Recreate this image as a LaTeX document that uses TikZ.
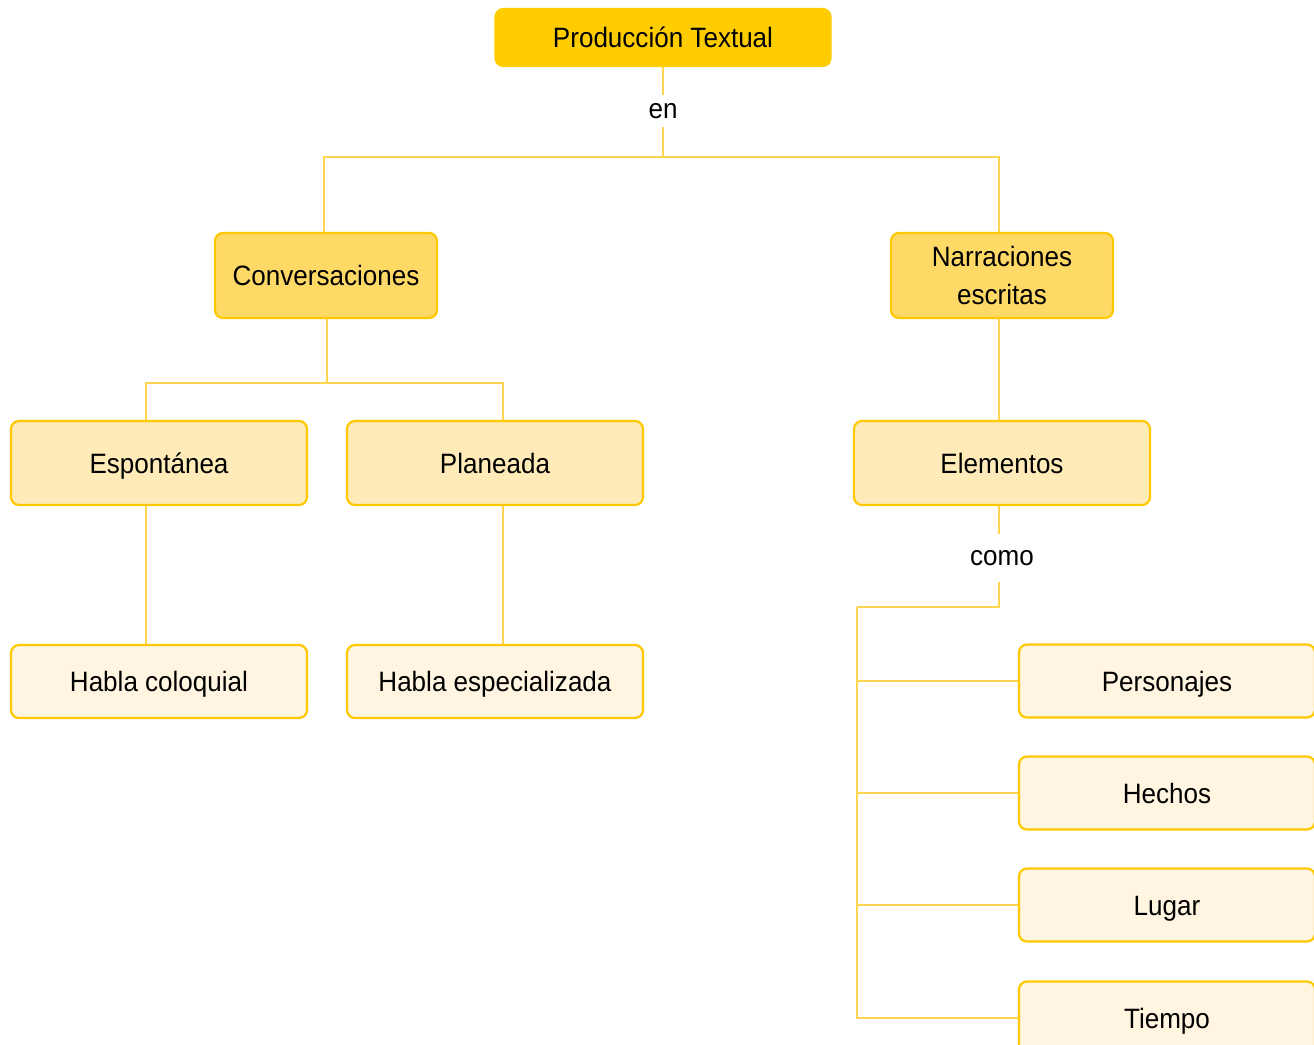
\documentclass[tikz,border=0pt]{standalone}
\usepackage{fontspec}
\setmainfont{Liberation Sans}[FakeStretch=0.93]
\usetikzlibrary{positioning}

\definecolor{oro}{HTML}{FFCC00}
\definecolor{oroclaro}{HTML}{FFD966}
\definecolor{crema}{HTML}{FFEBB8}
\definecolor{marfil}{HTML}{FFF5E0}
\definecolor{linea}{HTML}{FFD54F}
\definecolor{borde}{HTML}{FFC800}

\tikzset{
  caja/.style={draw=borde, line width=1.1pt, rounded corners=4pt,
    align=center, inner sep=0pt,
    font=\fontsize{14}{19}\selectfont},
  linea1/.style={text height=10pt, text depth=0pt},
  nivelA/.style={caja, linea1, fill=oro, draw=oro,
    minimum width=167.5pt, minimum height=28.5pt},
  nivelB/.style={caja, fill=oroclaro,
    minimum width=111pt, minimum height=42.5pt},
  nivelC/.style={caja, linea1, fill=crema,
    minimum width=148pt, minimum height=42pt},
  nivelD/.style={caja, linea1, fill=marfil,
    minimum width=148pt, minimum height=36.5pt},
  conector/.style={draw=linea, line width=1.3pt},
  enlace/.style={inner sep=0pt, text height=7.5pt, text depth=0pt,
    font=\fontsize{14}{17}\selectfont}
}

\begin{document}
\begin{tikzpicture}[x=0.5pt,y=-0.5pt]

  \useasboundingbox (0,0) rectangle (1314,1045);

  % Raiz
  \node[nivelA] (prod) at (663,37.5) {Producción Textual};
  \node[enlace, minimum height=16pt] (en) at (663,111) {en};
  \coordinate (raiz) at (663,157);

  % Segundo nivel
  \node[nivelB] (conv) at (326,275.5) {Conversaciones};
  \node[nivelB] (narr) at (1002,275.5) {Narraciones\\escritas};

  % Tercer nivel
  \node[nivelC] (espo) at (159,463) {Espontánea};
  \node[nivelC] (plan) at (495,463) {Planeada};
  \node[nivelC] (elem) at (1002,463) {Elementos};
  \coordinate (ramaconv) at (327,383);

  % Cuarto nivel
  \node[nivelD] (colo) at (159,681.5) {Habla coloquial};
  \node[nivelD] (espe) at (495,681.5) {Habla especializada};

  % Elementos
  \node[enlace, minimum height=24pt] (como) at (1002,558) {como};
  \coordinate (ramaelem) at (999,607);
  \coordinate (esquina) at (857,607);
  \node[nivelD] (pers) at (1167,681) {Personajes};
  \node[nivelD] (hech) at (1167,793) {Hechos};
  \node[nivelD] (luga) at (1167,905) {Lugar};
  \node[nivelD] (tiem) at (1167,1018) {Tiempo};

  % Conectores
  \draw[conector] (prod) -- (en);
  \draw[conector] (en) -- (raiz);
  \draw[conector] (raiz) -| ([xshift=-1pt]conv.north);
  \draw[conector] (raiz) -| ([xshift=-1.5pt]narr.north);

  \draw[conector] (conv.south -| ramaconv) -- (ramaconv);
  \draw[conector] (ramaconv) -| ([xshift=-6.5pt]espo.north);
  \draw[conector] (ramaconv) -| ([xshift=4pt]plan.north);
  \draw[conector] ([xshift=-6.5pt]espo.south) -- ([xshift=-6.5pt]colo.north);
  \draw[conector] ([xshift=4pt]plan.south) -- ([xshift=4pt]espe.north);

  \draw[conector] ([xshift=-1.5pt]narr.south) -- ([xshift=-1.5pt]elem.north);
  \draw[conector] (elem.south -| ramaelem) -- (como.north -| ramaelem);
  \draw[conector] (como.south -| ramaelem) -- (ramaelem) -- (esquina);
  \draw[conector] (esquina) |- (tiem.west);
  \foreach \dest in {pers,hech,luga}
    \draw[conector] (esquina |- \dest.west) -- (\dest.west);

\end{tikzpicture}
\end{document}
